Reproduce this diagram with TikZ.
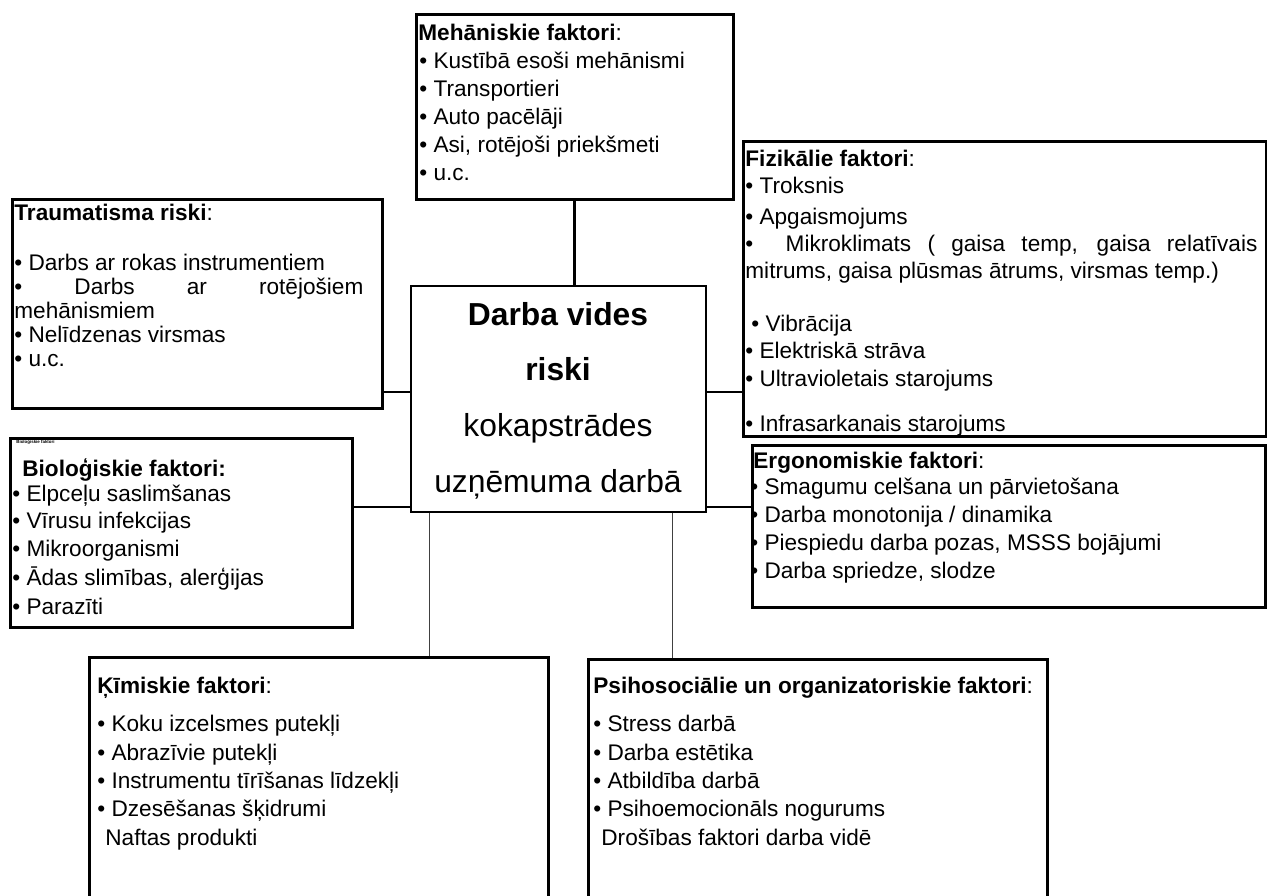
\documentclass[tikz,border=0pt]{standalone}
\usepackage{fontspec}
\setmainfont{Liberation Sans}
\usetikzlibrary{fit}
\begin{document}
\begin{tikzpicture}[x=0.5pt,y=-0.5pt,
  box/.style={draw=black, line width=1.5pt, inner sep=0pt},
  thinbox/.style={draw=black, line width=0.8pt, inner sep=0pt},
  txt/.style={anchor=base west, inner sep=0pt, font=\fontsize{11.3}{13}\selectfont},
  ctxt/.style={anchor=base, inner sep=0pt, font=\fontsize{15.9}{18}\selectfont},
  tiny/.style={anchor=base west, inner sep=0pt, font=\fontsize{2.2}{2.5}\selectfont\bfseries},
  conn/.style={draw=black, line width=1pt},
  vconn/.style={draw=black!75, line width=0.5pt},
  mconn/.style={draw=black, line width=1.4pt}]
\useasboundingbox (0,0) rectangle (1267,895);
\clip (0,0) rectangle (1267,895);

% boxes
\node[box, fit={(416,14) (733,199)}] (mech) {};
\node[box, fit={(12,199) (382,408)}] (traum) {};
\node[box, fit={(743,141) (1266,436)}] (phys) {};
\node[box, fit={(10,438) (352,627)}] (bio) {};
\node[thinbox, fit={(411,286) (706,512)}] (center) {};
\node[box, fit={(752,445) (1265,607)}] (ergo) {};
\node[box, fit={(89,657) (548,915)}] (chem) {};
\node[box, fit={(588,659) (1047,915)}] (psy) {};

% helper coordinates
\coordinate (yA) at (0,392);
\coordinate (yB) at (0,507);
\coordinate (xC) at (429,0);
\coordinate (xP) at (672,0);

% connectors
\draw[mconn] (mech.south) -- (mech.south |- center.north);
\draw[conn] (traum.east |- yA) -- (center.west |- yA);
\draw[conn] (bio.east |- yB) -- (center.west |- yB);
\draw[conn] (center.east |- yA) -- (phys.west |- yA);
\draw[conn] (center.east |- yB) -- (ergo.west |- yB);
\draw[vconn] (center.south -| xC) -- (chem.north -| xC);
\draw[vconn] (center.south -| xP) -- (psy.north -| xP);

% centre text
\node[ctxt] (c1) at (558,325) {\textbf{Darba vides}};
\node[ctxt] (c2) at (558,380) {\textbf{riski}};
\node[ctxt] (c3) at (558,436) {kokapstrādes};
\node[ctxt] (c4) at (558,492) {uzņēmuma darbā};

% Mehaniskie
\node[txt] (m0) at (418,40) {\textbf{Mehāniskie faktori}:};
\node[txt] (m1) at (419,68) {• Kustībā esoši mehānismi};
\node[txt] (m2) at (419,96) {• Transportieri};
\node[txt] (m3) at (419,124) {• Auto pacēlāji};
\node[txt] (m4) at (419,152) {• Asi, rotējoši priekšmeti};
\node[txt] (m5) at (419,180) {• u.c.};

% Traumatisma
\node[txt] (t0) at (14,220) {\textbf{Traumatisma riski}:};
\node[txt] (t1) at (14,270) {• Darbs ar rokas instrumentiem};
\node[txt] (t2) at (14,294) {\makebox[174.5pt][s]{• Darbs ar rotējošiem}};
\node[txt] (t3) at (14,318) {mehānismiem};
\node[txt] (t4) at (14,342) {• Nelīdzenas virsmas};
\node[txt] (t5) at (14,366) {• u.c.};

% Fizikalie
\node[txt] (p0) at (745,166) {\textbf{Fizikālie faktori}:};
\node[txt] (p1) at (745,193) {• Troksnis};
\node[txt] (p2) at (745,224) {• Apgaismojums};
\node[txt] (p3) at (745,251) {\makebox[256pt][s]{• \ Mikroklimats ( gaisa temp, gaisa relatīvais}};
\node[txt] (p4) at (745,278) {mitrums, gaisa plūsmas ātrums, virsmas temp.)};
\node[txt] (p5) at (751,331) {• Vibrācija};
\node[txt] (p6) at (745,358) {• Elektriskā strāva};
\node[txt] (p7) at (745,386) {• Ultravioletais starojums};
\node[txt] (p8) at (745,431) {• Infrasarkanais starojums};

% Biologiskie
\node[tiny] (b00) at (16,443) {Bioloģiskie faktori};
\node[txt] (b0) at (22,476) {\textbf{Bioloģiskie faktori:}};
\node[txt] (b1) at (12,501) {• Elpceļu saslimšanas};
\node[txt] (b2) at (12,528) {• Vīrusu infekcijas};
\node[txt] (b3) at (12,556) {• Mikroorganismi};
\node[txt] (b4) at (12,585) {• Ādas slimības, alerģijas};
\node[txt] (b5) at (12,614) {• Parazīti};

% Ergonomiskie
\node[txt] (e0) at (753,468) {\textbf{Ergonomiskie faktori}:};
\node[txt] (e1) at (750,494) {• Smagumu celšana un pārvietošana};
\node[txt] (e2) at (750,522) {• Darba monotonija / dinamika};
\node[txt] (e3) at (750,550) {• Piespiedu darba pozas, MSSS bojājumi};
\node[txt] (e4) at (750,578) {• Darba spriedze, slodze};

% Kimiskie
\node[txt] (k0) at (97,693) {\textbf{Ķīmiskie faktori}:};
\node[txt] (k1) at (97,731) {• Koku izcelsmes putekļi};
\node[txt] (k2) at (97,760) {• Abrazīvie putekļi};
\node[txt] (k3) at (97,788) {• Instrumentu tīrīšanas līdzekļi};
\node[txt] (k4) at (97,816) {• Dzesēšanas šķidrumi};
\node[txt] (k5) at (105,845) {Naftas produkti};

% Psihosocialie
\node[txt] (s0) at (593,693) {\textbf{Psihosociālie un organizatoriskie faktori}:};
\node[txt] (s1) at (593,731) {• Stress darbā};
\node[txt] (s2) at (593,760) {• Darba estētika};
\node[txt] (s3) at (593,788) {• Atbildība darbā};
\node[txt] (s4) at (593,816) {• Psihoemocionāls nogurums};
\node[txt] (s5) at (601,845) {Drošības faktori darba vidē};
\end{tikzpicture}
\end{document}
